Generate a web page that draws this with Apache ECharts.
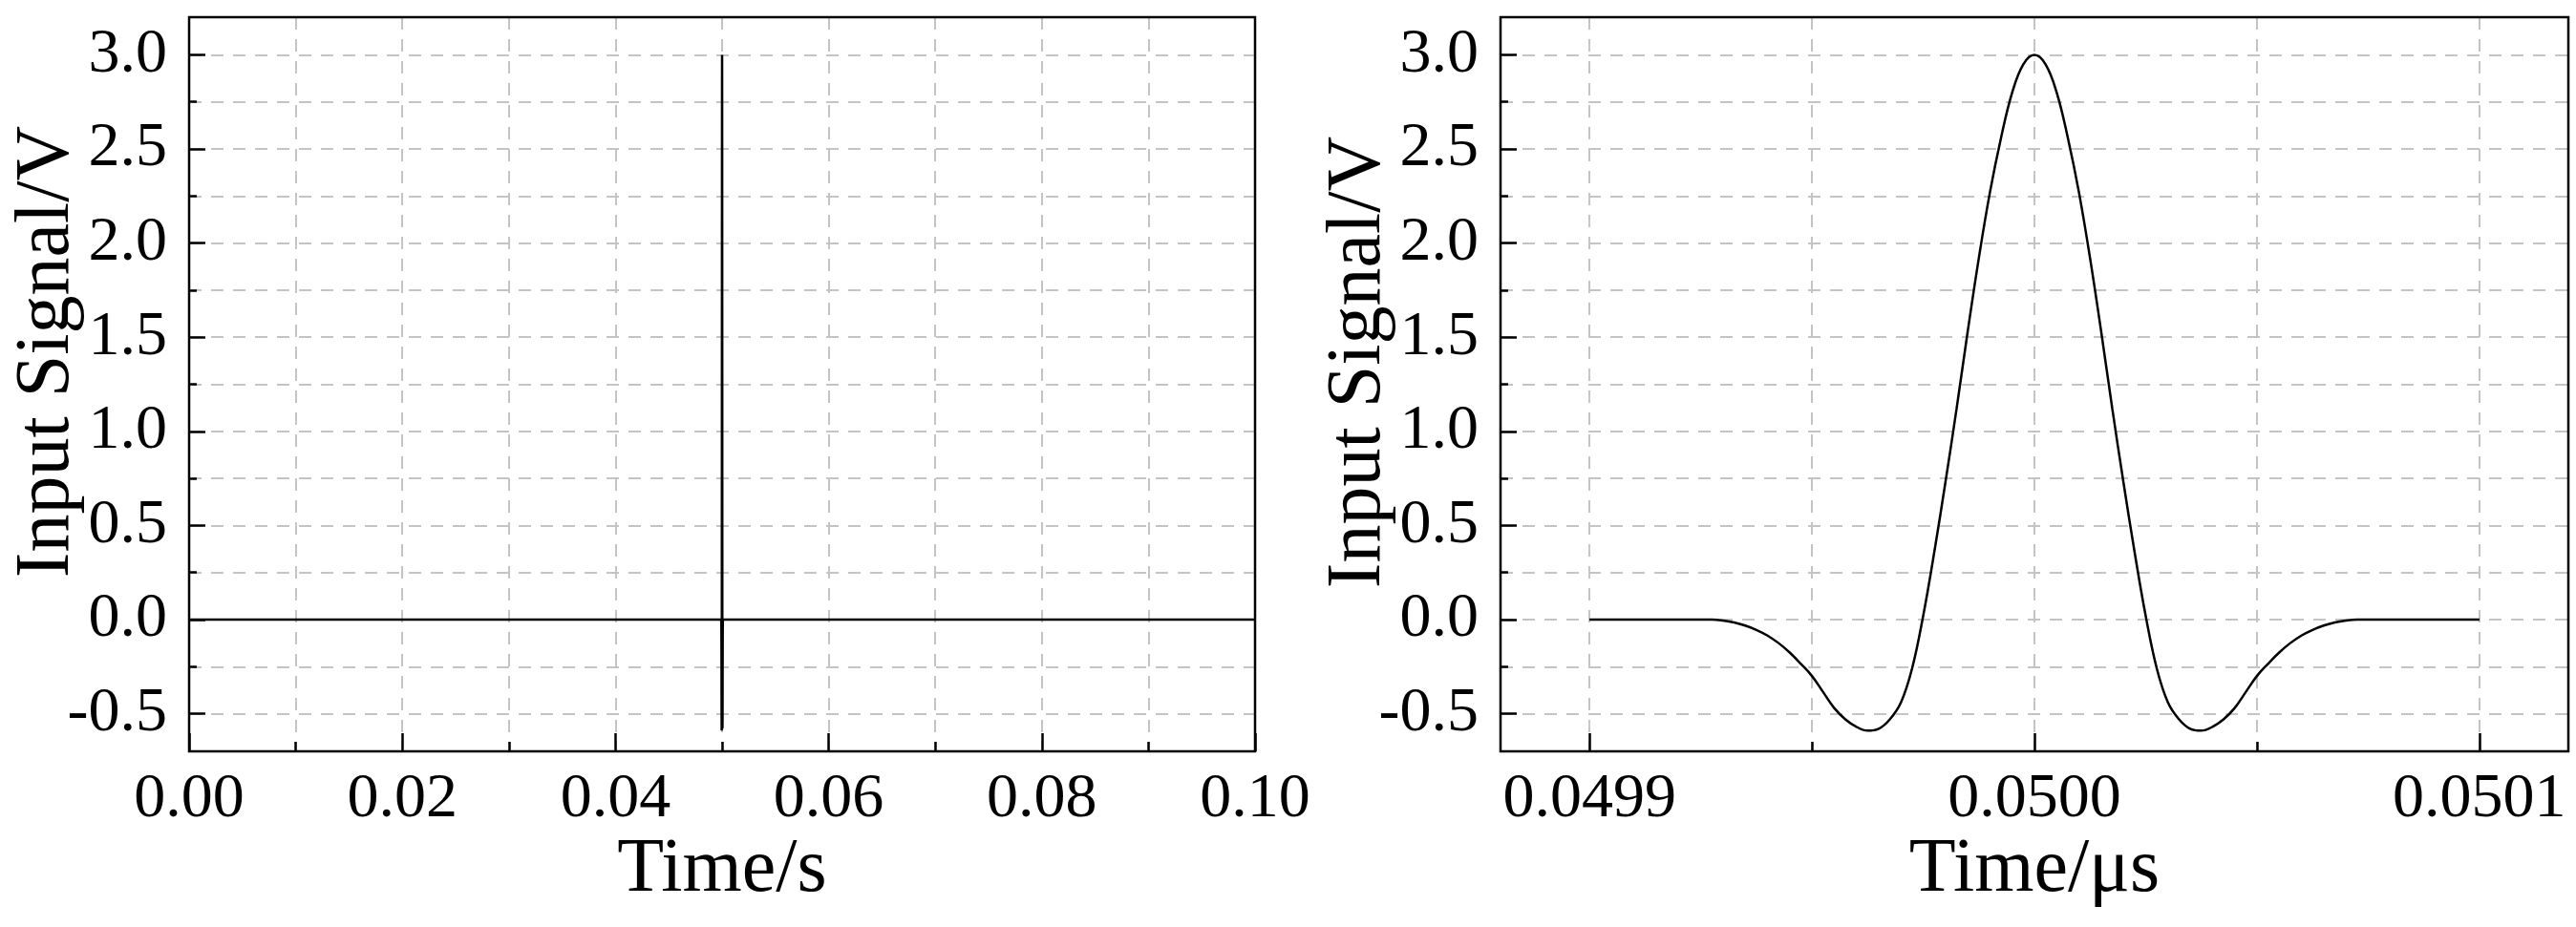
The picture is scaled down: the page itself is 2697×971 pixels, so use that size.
<!DOCTYPE html>
<html>
<head>
<meta charset="utf-8">
<title>Input Signal</title>
<script src="https://cdn.jsdelivr.net/npm/echarts@6/dist/echarts.min.js"></script>
<style>
    html, body { margin: 0; padding: 0; background: #fff; }
    #chart { width: 2697px; height: 971px; }
</style>
</head>
<body>
<div id="chart"></div>
<script>
// 波形数据 (左图单位 s, 右图单位 μs, 数值一样)
const waveTime = [
    0.0499, 0.049925, 0.0499275, 0.04993, 0.0499325, 0.049935, 0.0499375, 0.04994,
    0.0499425, 0.049945, 0.0499475, 0.04995, 0.0499525, 0.049955, 0.0499575, 0.04996,
    0.0499625, 0.049965, 0.0499675, 0.04997, 0.0499725, 0.049975, 0.0499775, 0.04998,
    0.0499825, 0.049985, 0.0499875, 0.04999, 0.0499925, 0.049995, 0.0499975, 0.05,
    0.0500025, 0.050005, 0.0500075, 0.05001, 0.0500125, 0.050015, 0.0500175, 0.05002,
    0.0500225, 0.050025, 0.0500275, 0.05003, 0.0500325, 0.050035, 0.0500375, 0.05004,
    0.0500425, 0.050045, 0.0500475, 0.05005, 0.0500525, 0.050055, 0.0500575, 0.05006,
    0.0500625, 0.050065, 0.0500675, 0.05007, 0.0500725, 0.050075, 0.0501
]
const waveVolt = [
    0, 0, 0, -0.005, -0.015, -0.032, -0.055, -0.085,
    -0.125, -0.175, -0.235, -0.30, -0.385, -0.47, -0.53, -0.57,
    -0.59, -0.58, -0.53, -0.44, -0.26, 0.02, 0.36, 0.73,
    1.12, 1.53, 1.92, 2.27, 2.56, 2.8, 2.95, 3.0,
    2.95, 2.8, 2.56, 2.27, 1.92, 1.53, 1.12, 0.73,
    0.36, 0.02, -0.26, -0.44, -0.53, -0.58, -0.59, -0.57,
    -0.53, -0.47, -0.385, -0.30, -0.235, -0.175, -0.125, -0.085,
    -0.055, -0.032, -0.015, -0.005, 0, 0, 0
]

// 左图整段时间的首尾
const leftEnds = [0, 0.1]

// 刻度
const yRange = [-0.7, 3.2]
const yMajor = [-0.5, 0, 0.5, 1, 1.5, 2, 2.5, 3]
const yMinor = [-0.25, 0.25, 0.75, 1.25, 1.75, 2.25, 2.75]
const leftRange = [0, 0.1]
const leftMajor = [0, 0.02, 0.04, 0.06, 0.08, 0.1]
const leftMinor = [0.01, 0.03, 0.05, 0.07, 0.09]
const rightRange = [0.04988, 0.05012]
const rightMajor = [0.0499, 0.05, 0.0501]
const rightMinor = [0.04995, 0.05005]

const font = 'Liberation Serif'
const gridLine = { color: '#c4c4c4', width: 2, type: [13, 10] }
const tickLine = { color: '#000', width: 2.5 }

// 生成一对x轴 (主刻度 + 次刻度)
function makeX(gridIndex, range, major, minor, name, digits) {
    return [
        {
            type: 'value', gridIndex: gridIndex, position: 'bottom',
            min: range[0], max: range[1],
            name: name, nameLocation: 'middle', nameGap: 85, nameMoveOverlap: false,
            nameTextStyle: { fontSize: 80, fontFamily: font, color: '#000' },
            axisLine: { show: false, onZero: false },
            axisTick: { inside: true, length: 19, customValues: major, lineStyle: tickLine },
            axisLabel: {
                customValues: major, margin: 18, fontSize: 66, fontFamily: font, color: '#000',
                formatter: v => v.toFixed(digits)
            },
            splitLine: { show: true, lineStyle: gridLine }
        },
        {
            type: 'value', gridIndex: gridIndex, position: 'bottom',
            min: range[0], max: range[1],
            axisLine: { show: false, onZero: false },
            axisTick: { inside: true, length: 10, customValues: minor, lineStyle: tickLine },
            axisLabel: { show: false },
            splitLine: { show: true, lineStyle: gridLine }
        }
    ]
}

// 生成一对y轴
function makeY(gridIndex, pad) {
    return [
        {
            type: 'value', gridIndex: gridIndex, position: 'left',
            min: yRange[0], max: yRange[1],
            name: 'Input Signal/V', nameLocation: 'middle', nameGap: 108, nameMoveOverlap: false,
            nameTextStyle: { fontSize: 80, fontFamily: font, color: '#000', padding: [0, 0, 0, pad] },
            axisLine: { show: false, onZero: false },
            axisTick: { inside: true, length: 17, customValues: yMajor, lineStyle: tickLine },
            axisLabel: {
                customValues: yMajor, margin: 23, fontSize: 66, fontFamily: font, color: '#000',
                formatter: v => v.toFixed(1)
            },
            splitLine: { show: true, lineStyle: gridLine }
        },
        {
            type: 'value', gridIndex: gridIndex, position: 'left',
            min: yRange[0], max: yRange[1],
            axisLine: { show: false, onZero: false },
            axisTick: { inside: true, length: 8, customValues: yMinor, lineStyle: tickLine },
            axisLabel: { show: false },
            splitLine: { show: true, lineStyle: gridLine }
        }
    ]
}

const wave = waveTime.map((t, i) => [t, waveVolt[i]])
const leftData = [[leftEnds[0], 0]].concat(wave, [[leftEnds[1], 0]])

// 外框, 不让标签挤动网格
const box = {
    show: true, z: 5, backgroundColor: 'transparent', borderColor: '#000', borderWidth: 2.5,
    containLabel: false, outerBoundsMode: 'none'
}

const chart = echarts.init(document.getElementById('chart'))

chart.setOption({
    animation: false,
    backgroundColor: '#fff',
    grid: [
        Object.assign({ left: 198, top: 18, width: 1116, height: 769 }, box),
        Object.assign({ left: 1571, top: 18, width: 1118, height: 769 }, box)
    ],
    xAxis: makeX(0, leftRange, leftMajor, leftMinor, 'Time/s', 2)
        .concat(makeX(1, rightRange, rightMajor, rightMinor, 'Time/μs', 4)),
    yAxis: makeY(0, 68).concat(makeY(1, 46)),
    series: [
        {
            type: 'line', xAxisIndex: 0, yAxisIndex: 0,
            data: leftData, showSymbol: false, smooth: false,
            lineStyle: { color: '#000', width: 2.5 }
        },
        {
            type: 'line', xAxisIndex: 2, yAxisIndex: 2,
            data: wave, showSymbol: false, smooth: 0.4,
            lineStyle: { color: '#000', width: 2.5 }
        }
    ]
})
</script>
</body>
</html>
